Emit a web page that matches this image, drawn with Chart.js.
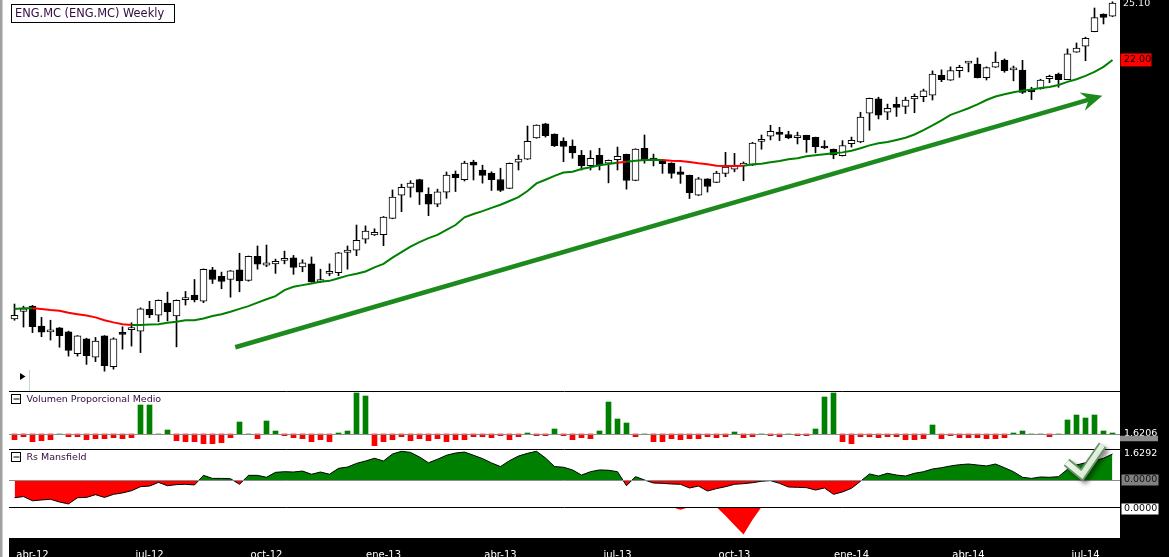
<!DOCTYPE html>
<html><head><meta charset="utf-8">
<script src="https://cdn.jsdelivr.net/npm/chart.js@4.4.1/dist/chart.umd.min.js"></script>
<style>html,body{margin:0;padding:0;background:#fff;overflow:hidden}canvas{display:block}</style>
</head><body>
<canvas id="c" width="1169" height="557" style="width:1169px;height:557px"></canvas>
<script>
// ---- weekly OHLC (ENG.MC) ----
const opens = [12.08,12.29,12.44,11.88,11.72,11.83,11.72,11.14,11.53,11.05,
11.61,10.81,11.68,11.78,11.74,12.35,12.18,12.53,12.16,12.63,
12.76,12.58,13.53,13.33,13.23,13.53,13.20,13.96,13.68,13.72,
13.83,13.91,13.62,13.72,13.16,13.42,13.44,14.09,14.16,14.53,
14.67,14.68,15.24,16.08,16.38,16.68,16.12,15.75,16.20,16.89,
16.67,17.37,17.05,16.93,16.68,16.34,17.36,17.48,18.36,18.97,
18.53,18.23,18.02,17.64,17.22,17.64,17.32,17.46,17.68,16.64,
17.93,17.47,17.45,17.33,16.98,16.84,16.08,16.70,16.57,16.92,
17.08,17.21,17.24,18.22,18.44,18.61,18.51,18.38,18.47,18.39,
18.01,17.89,17.62,18.12,18.20,19.45,20.10,19.49,19.85,19.76,
20.10,20.20,20.28,21.23,20.99,21.46,21.84,21.79,21.11,21.63,
21.99,21.50,21.49,20.52,20.57,21.06,21.29,21.02,22.40,22.71,
23.49,24.47,24.34];
const highs = [12.50,12.44,12.46,12.12,12.04,11.84,11.74,11.62,11.55,11.57,
11.62,11.56,11.86,11.97,12.39,12.58,12.62,12.85,12.62,12.87,
13.23,13.56,13.61,13.46,13.51,14.06,13.97,14.30,14.33,13.87,
14.13,13.99,13.85,13.94,13.55,13.72,14.09,14.30,15.01,14.98,
14.88,15.31,16.28,16.50,16.63,16.69,16.36,16.31,16.97,17.01,
17.40,17.44,17.24,16.98,17.12,17.33,17.65,18.88,18.93,19.00,
18.54,18.37,18.28,17.84,17.83,17.93,17.45,17.98,17.69,17.91,
18.49,17.69,17.46,17.34,17.18,16.85,16.76,16.71,17.00,17.76,
17.72,17.37,18.18,18.49,18.91,18.82,18.65,18.61,18.48,18.40,
18.25,17.90,18.25,18.40,19.49,20.14,20.18,19.86,20.18,20.18,
20.33,20.56,21.45,21.50,21.65,21.73,21.90,22.10,21.65,22.41,
22.05,21.69,21.98,20.65,21.04,21.24,21.34,22.57,22.88,23.19,
24.81,24.48,25.17];
const lows = [12.04,11.85,11.70,11.59,11.50,11.31,11.08,11.08,10.87,10.94,
10.70,10.75,11.26,11.34,11.17,12.11,12.00,12.02,11.32,12.47,
12.56,12.54,13.11,12.95,12.70,12.86,13.18,13.55,13.63,13.42,
13.72,13.39,13.47,13.15,13.14,13.35,13.35,13.55,13.98,14.39,
14.65,14.31,15.23,15.48,16.01,15.74,15.34,15.66,15.97,16.22,
16.62,16.66,16.54,16.26,16.22,16.33,17.05,17.47,18.35,18.40,
18.00,17.38,17.52,17.05,17.05,17.05,16.55,17.05,16.31,16.63,
17.32,17.21,16.92,16.73,16.53,15.96,16.07,16.20,16.56,16.79,
16.98,16.63,17.23,17.89,18.28,18.25,18.33,18.11,17.76,17.74,
17.91,17.50,17.61,17.98,18.16,18.69,19.19,19.16,19.30,19.43,
19.47,19.97,20.05,20.92,20.98,21.13,21.40,21.10,21.00,21.62,
21.38,20.96,20.35,20.07,20.56,20.87,20.65,21.01,22.39,21.96,
23.48,23.91,24.32];
const closes = [12.18,12.36,11.86,11.71,11.77,11.62,11.23,11.61,11.09,11.47,
10.84,11.53,11.65,11.80,12.36,12.19,12.61,12.28,12.61,12.66,
12.62,13.55,13.23,13.17,13.50,13.19,13.96,13.71,13.75,13.80,
13.86,13.61,13.75,13.16,13.23,13.45,14.07,14.16,14.49,14.80,
14.76,15.29,16.01,16.38,16.54,16.20,15.75,16.21,16.85,16.75,
17.33,17.24,16.84,16.67,16.26,17.32,17.49,18.22,18.92,18.46,
18.04,18.01,17.74,17.22,17.52,17.24,17.44,17.60,16.64,17.90,
17.44,17.45,17.30,16.92,16.88,16.18,16.70,16.41,16.93,17.17,
17.21,17.33,18.15,18.30,18.65,18.51,18.36,18.40,18.29,18.00,
17.94,17.66,18.04,18.26,19.27,20.13,19.36,19.67,19.71,20.05,
20.22,20.48,21.29,21.02,21.47,21.63,21.86,21.11,21.61,21.89,
21.46,21.51,20.41,20.44,21.00,21.18,21.02,22.31,22.61,23.13,
24.26,24.28,25.10];
// ---- moving average ----
const movingAverage = [12.36,12.38,12.38,12.36,12.33,12.31,12.25,12.21,12.17,12.12,
12.04,11.98,11.93,11.91,11.91,11.92,11.93,11.97,12.00,12.04,
12.04,12.09,12.16,12.21,12.28,12.36,12.44,12.54,12.64,12.73,
12.91,13.01,13.06,13.11,13.16,13.19,13.27,13.35,13.41,13.48,
13.61,13.72,13.92,14.10,14.28,14.43,14.56,14.67,14.84,15.01,
15.28,15.40,15.50,15.62,15.73,15.87,16.01,16.24,16.53,16.67,
16.82,16.95,16.98,17.09,17.16,17.24,17.29,17.34,17.38,17.42,
17.45,17.46,17.45,17.42,17.41,17.37,17.32,17.28,17.22,17.21,
17.21,17.22,17.28,17.30,17.36,17.41,17.48,17.52,17.60,17.64,
17.68,17.72,17.76,17.83,17.93,18.05,18.14,18.19,18.28,18.37,
18.51,18.70,18.91,19.13,19.37,19.52,19.67,19.85,20.05,20.21,
20.32,20.41,20.49,20.54,20.61,20.66,20.76,20.91,21.04,21.20,
21.40,21.65,22.00];
const maBearishRanges = [[2,12],[67,67],[72,80]];
// ---- Volumen Proporcional Medio ----
const volumeRatio = [-0.57,-0.27,-0.77,-0.67,-0.57,0,-0.27,-0.27,-0.57,-0.47,
-0.47,-0.37,-0.47,-0.37,2.9,2.9,0,0.4,-0.67,-0.77,
-0.77,-0.97,-0.97,-0.87,-0.37,1.2,0,-0.47,1.3,0.3,
-0.17,-0.37,-0.47,-0.77,-0.57,-0.77,0.1,0.3,4.1,3.8,
-1.17,-0.77,-0.57,-0.27,-0.67,-0.47,-0.67,-0.47,-0.77,-0.57,
-0.57,-0.27,-0.27,-0.37,-0.17,-0.57,-0.27,0.1,-0.17,-0.17,
0.5,-0.17,-0.57,-0.37,-0.47,0.3,3.2,1.5,1.1,-0.27,
0,-0.77,-0.77,-0.47,-0.57,-0.47,-0.47,-0.27,-0.37,-0.27,
0.2,-0.37,-0.27,0,-0.17,-0.27,0,-0.17,-0.17,0.5,
3.7,4.1,-0.77,-0.97,-0.27,-0.27,-0.37,-0.27,-0.27,-0.57,
-0.57,-0.47,0.9,-0.47,-0.17,-0.37,-0.37,-0.37,-0.47,-0.47,
-0.37,0.1,0.3,0,0,-0.27,0,1.4,1.9,1.6,
1.9,0.3,0.1];
// ---- Rs Mansfield ----
const rsMansfield = [-1.11,-1.04,-1.30,-1.25,-1.21,-1.38,-1.50,-1.11,-1.09,-0.92,
-1.09,-0.90,-0.81,-0.67,-0.42,-0.38,-0.15,-0.36,-0.29,-0.27,
-0.31,0.29,0.10,0.10,0.08,-0.27,0.29,0.29,0.17,0.48,
0.52,0.50,0.56,0.36,0.50,0.36,0.73,0.81,1.04,1.19,
1.36,1.19,1.63,1.80,1.73,1.44,1.08,1.30,1.55,1.69,
1.75,1.55,1.34,1.07,0.84,1.21,1.50,1.67,1.80,1.38,
0.84,0.80,0.63,0.31,0.52,0.63,0.61,0.52,-0.36,0.21,
0,-0.19,-0.21,-0.25,-0.27,-0.50,-0.38,-0.69,-0.54,-0.42,
-0.27,-0.23,-0.17,-0.08,-0.04,-0.21,-0.44,-0.46,-0.48,-0.63,
-0.50,-0.90,-0.75,-0.52,-0.08,0.38,0.25,0.42,0.31,0.25,
0.42,0.52,0.69,0.77,0.88,0.96,1.00,0.94,0.88,1.00,
0.77,0.52,0.17,0.10,0.19,0.17,0.21,0.67,0.94,1.08,
1.21,1.36,1.6292];
// ---- lower panel ----
const lowerPanel = rsMansfield.map(() => 0);
const lowerPanelDips = [[74,-0.17],[79,-0.55],[80,-1.15],[81,-1.73],[82,-0.80]];
lowerPanelDips.forEach(([i, v]) => { lowerPanel[i] = v; });
// ---- labels ----
const firstWeekEnd = [2012, 2, 23];
const monthNames = ['ene','feb','mar','abr','may','jun','jul','ago','sep','oct','nov','dic'];
const quarterMonths = [0, 3, 6, 9];
const title = 'ENG.MC (ENG.MC) Weekly';
const volumeLabel = 'Volumen Proporcional Medio';
const rsLabel = 'Rs Mansfield';
const volumeValueLabel = '1.6206';
const trendArrow = { from: { i: 24.53, v: 11.31 }, to: { i: 120.87, v: 20.25 } };
const checkMark = [{ i: 116.9, v: 1.11 }, { i: 118.6, v: 0.31 }, { i: 120.9, v: 2.19 }];

const weeks = opens.map((_, i) => {
  const d = new Date(Date.UTC(firstWeekEnd[0], firstWeekEnd[1], firstWeekEnd[2]) + i * 7 * 864e5);
  return d.toISOString().slice(0, 10);
});
function tickLabel(i) {
  if (i <= 0) return '';
  const d = new Date(weeks[i] + 'T00:00:00Z'), p = new Date(weeks[i - 1] + 'T00:00:00Z');
  const m = d.getUTCMonth();
  if (m !== p.getUTCMonth() && quarterMonths.includes(m)) return monthNames[m] + '-' + String(d.getUTCFullYear()).slice(2);
  return '';
}

const GREEN = '#008000', RED = '#ff0000';
const bodies = opens.map((o, i) => [Math.min(o, closes[i]), Math.max(o, closes[i])]);
const wicks = lows.map((l, i) => [l, highs[i]]);
const bodyColors = opens.map((o, i) => closes[i] >= o ? '#ffffff' : '#000000');
const isBearish = i => maBearishRanges.some(([a, b]) => i >= a && i <= b);

const FONT = '"DejaVu Sans", Verdana, sans-serif';
Chart.defaults.font.family = FONT;

const decor = {
  id: 'decor',
  beforeDraw(chart) {
    const { ctx, width, height, chartArea: a } = chart;
    ctx.save();
    ctx.fillStyle = '#ffffff'; ctx.fillRect(0, 0, width, height);
    ctx.fillStyle = '#000000';
    ctx.fillRect(a.right + 3, 0, width - a.right - 3, height);
    ctx.fillRect(a.left - 1, a.bottom, width - a.left + 1, height - a.bottom);
    ctx.fillStyle = '#a0a0a0'; ctx.fillRect(0, 0, 2.5, height);
    ctx.restore();
  },
  afterDatasetsDraw(chart) {
    const { ctx, chartArea: a, scales } = chart;
    const { x, yP, yV, yR, yB } = scales;
    const L = a.left - 1, R = a.right + 3;
    ctx.save();
    // zero lines
    ctx.strokeStyle = '#8c8c8c'; ctx.lineWidth = 1;
    [[yV, 0], [yR, 0]].forEach(([s, v]) => {
      const y = Math.round(s.getPixelForValue(v)) + 0.5;
      ctx.beginPath(); ctx.moveTo(L, y); ctx.lineTo(R, y); ctx.stroke();
    });
    // separators
    ctx.strokeStyle = '#000000';
    [yV, yR, yB].forEach(s => {
      const y = Math.round(s.top) + 0.5;
      ctx.beginPath(); ctx.moveTo(L, y); ctx.lineTo(R, y); ctx.stroke();
    });
    // trend arrow
    const S = { x: x.getPixelForValue(trendArrow.from.i), y: yP.getPixelForValue(trendArrow.from.v) };
    const T = { x: x.getPixelForValue(trendArrow.to.i), y: yP.getPixelForValue(trendArrow.to.v) };
    const len = Math.hypot(T.x - S.x, T.y - S.y);
    const u = { x: (T.x - S.x) / len, y: (T.y - S.y) / len }, n = { x: -u.y, y: u.x };
    const HL = 21, HW = 9.5, NT = 7;
    const nb = { x: T.x - u.x * (HL - NT), y: T.y - u.y * (HL - NT) };
    ctx.strokeStyle = '#1d8a1d'; ctx.fillStyle = '#1d8a1d'; ctx.lineWidth = 4.5; ctx.lineCap = 'butt';
    ctx.beginPath(); ctx.moveTo(S.x, S.y); ctx.lineTo(nb.x, nb.y); ctx.stroke();
    ctx.beginPath();
    ctx.moveTo(T.x, T.y);
    ctx.lineTo(T.x - u.x * HL + n.x * HW, T.y - u.y * HL + n.y * HW);
    ctx.lineTo(nb.x, nb.y);
    ctx.lineTo(T.x - u.x * HL - n.x * HW, T.y - u.y * HL - n.y * HW);
    ctx.closePath(); ctx.fill();
    // check mark
    const cp = checkMark.map(p => ({ x: x.getPixelForValue(p.i), y: yR.getPixelForValue(p.v) }));
    ctx.lineJoin = 'miter'; ctx.lineCap = 'butt';
    ctx.save();
    ctx.shadowColor = 'rgba(0,0,0,0.45)'; ctx.shadowBlur = 4; ctx.shadowOffsetX = 3; ctx.shadowOffsetY = 3;
    ctx.strokeStyle = '#6f8f70'; ctx.lineWidth = 9;
    ctx.beginPath(); ctx.moveTo(cp[0].x, cp[0].y); ctx.lineTo(cp[1].x, cp[1].y); ctx.lineTo(cp[2].x, cp[2].y); ctx.stroke();
    ctx.restore();
    const g = ctx.createLinearGradient(cp[0].x, cp[2].y, cp[2].x, cp[1].y);
    g.addColorStop(0, '#ffffff'); g.addColorStop(1, '#c6e6bf');
    ctx.strokeStyle = g; ctx.lineWidth = 5.5;
    ctx.beginPath(); ctx.moveTo(cp[0].x, cp[0].y); ctx.lineTo(cp[1].x, cp[1].y); ctx.lineTo(cp[2].x, cp[2].y); ctx.stroke();
    // right-side value labels
    const RX = a.right + 3;
    ctx.font = '9.5px ' + FONT; ctx.textBaseline = 'middle'; ctx.textAlign = 'left';
    const last = closes.length - 1;
    ctx.fillStyle = '#f0f0f0'; ctx.fillText(closes[last].toFixed(2), RX + 3, yP.getPixelForValue(closes[last]) + 1);
    const maY = yP.getPixelForValue(movingAverage[last]);
    ctx.fillStyle = RED; ctx.fillRect(RX + 0.5, maY - 6.5, 31, 13);
    ctx.fillStyle = '#000000'; ctx.fillText(movingAverage[last].toFixed(2), RX + 4, maY);
    const vY = yV.getPixelForValue(0);
    ctx.fillStyle = '#ffffff'; ctx.fillText(volumeValueLabel, RX + 4, vY);
    ctx.strokeStyle = '#8c8c8c'; ctx.beginPath(); ctx.moveTo(RX, Math.round(vY) + 4.5); ctx.lineTo(RX + 38, Math.round(vY) + 4.5); ctx.stroke();
    ctx.fillStyle = '#ffffff'; ctx.fillText(rsMansfield[last].toFixed(4), RX + 4, yR.getPixelForValue(rsMansfield[last]));
    const rz = yR.getPixelForValue(0);
    ctx.fillStyle = '#808080'; ctx.fillRect(RX + 1.5, rz - 5.5, 37, 11);
    ctx.fillStyle = '#111111'; ctx.fillText((0).toFixed(4), RX + 4, rz);
    const bz = yB.getPixelForValue(0) + 2;
    ctx.fillStyle = '#ffffff'; ctx.fillRect(RX + 1.5, bz - 5.5, 37, 11);
    ctx.fillStyle = '#000000'; ctx.fillText((0).toFixed(4), RX + 4, bz);
    // title
    ctx.fillStyle = '#ffffff'; ctx.fillRect(11.5, 4.5, 163, 18);
    ctx.strokeStyle = '#000000'; ctx.lineWidth = 1; ctx.strokeRect(11.5, 4.5, 163, 18);
    ctx.font = '11.4px ' + FONT; ctx.fillStyle = '#300a40';
    ctx.fillText(title, 15, 14);
    // panel labels with collapse boxes
    const panelLabel = (txt, top) => {
      const by = Math.round(top) + 3.5;
      ctx.strokeStyle = '#000000'; ctx.lineWidth = 1;
      ctx.strokeRect(11.5, by, 9, 9);
      ctx.beginPath(); ctx.moveTo(13.5, by + 4.5); ctx.lineTo(19.5, by + 4.5); ctx.stroke();
      ctx.font = '9.5px ' + FONT; ctx.fillStyle = '#300a40';
      ctx.fillText(txt, 26.5, by + 5);
    };
    panelLabel(volumeLabel, yV.top);
    panelLabel(rsLabel, yR.top);
    // small play icon
    ctx.fillStyle = '#000000';
    ctx.beginPath(); ctx.moveTo(20, yV.top - 18); ctx.lineTo(25.5, yV.top - 14.5); ctx.lineTo(20, yV.top - 11); ctx.closePath(); ctx.fill();
    ctx.strokeStyle = '#d0d0d0';
    ctx.beginPath(); ctx.moveTo(29.5, yV.top - 21); ctx.lineTo(29.5, yV.top); ctx.stroke();
    ctx.restore();
  }
};

const hiddenY = (extra) => Object.assign({
  position: 'right', stack: 'panels', display: true,
  grid: { display: false }, border: { display: false }, ticks: { display: false },
  afterFit: s => { s.width = 52; }
}, extra);

new Chart(document.getElementById('c'), {
  type: 'bar',
  data: {
    labels: weeks,
    datasets: [
      { type: 'bar', label: 'wicks', data: wicks, yAxisID: 'yP', backgroundColor: '#000000', borderWidth: 0,
        barThickness: 1, grouped: false, order: 6 },
      { type: 'bar', label: 'bodies', data: bodies, yAxisID: 'yP', backgroundColor: bodyColors, borderColor: '#000000',
        borderWidth: 1, borderSkipped: false, barThickness: 7, minBarLength: 2, grouped: false, order: 5 },
      { type: 'line', label: 'MA', data: movingAverage, yAxisID: 'yP', borderColor: GREEN, borderWidth: 2,
        pointRadius: 0, tension: 0, order: 1,
        segment: { borderColor: c => isBearish(c.p0DataIndex) ? RED : GREEN } },
      { type: 'bar', label: 'vol', data: volumeRatio, yAxisID: 'yV', backgroundColor: volumeRatio.map(v => v >= 0 ? GREEN : RED),
        borderWidth: 0, barThickness: 5, grouped: false, order: 4 },
      { type: 'line', label: 'rs', data: rsMansfield, yAxisID: 'yR', borderColor: '#000000', borderWidth: 1,
        pointRadius: 0, tension: 0, order: 3,
        fill: { target: { value: 0 }, above: GREEN, below: RED } },
      { type: 'line', label: 'low', data: lowerPanel, yAxisID: 'yB', borderColor: 'rgba(0,0,0,0)', borderWidth: 0,
        pointRadius: 0, tension: 0, order: 2,
        fill: { target: { value: 0 }, above: 'rgba(0,0,0,0)', below: RED } }
    ]
  },
  options: {
    responsive: false, animation: false, devicePixelRatio: 1,
    layout: { padding: { left: 10, right: 0, top: 0, bottom: 0 } },
    plugins: { legend: { display: false }, tooltip: { enabled: false } },
    scales: {
      x: { type: 'category', offset: true, grid: { display: false }, border: { display: false },
        ticks: { autoSkip: false, maxRotation: 0, minRotation: 0, color: '#ffffff', padding: 3,
          font: { size: 10, family: FONT }, callback: (v, i) => tickLabel(i) },
        afterFit: s => { s.height = 19; } },
      yP: hiddenY({ type: 'logarithmic', stackWeight: 391, min: 10.22, max: 25.275 }),
      yV: hiddenY({ type: 'linear', stackWeight: 58, min: -1.5, max: 4.3 }),
      yR: hiddenY({ type: 'linear', stackWeight: 58, min: -1.692, max: 1.942 }),
      yB: hiddenY({ type: 'linear', stackWeight: 31, min: -1.942, max: 0 })
    }
  },
  plugins: [decor]
});
</script>
</body></html>
